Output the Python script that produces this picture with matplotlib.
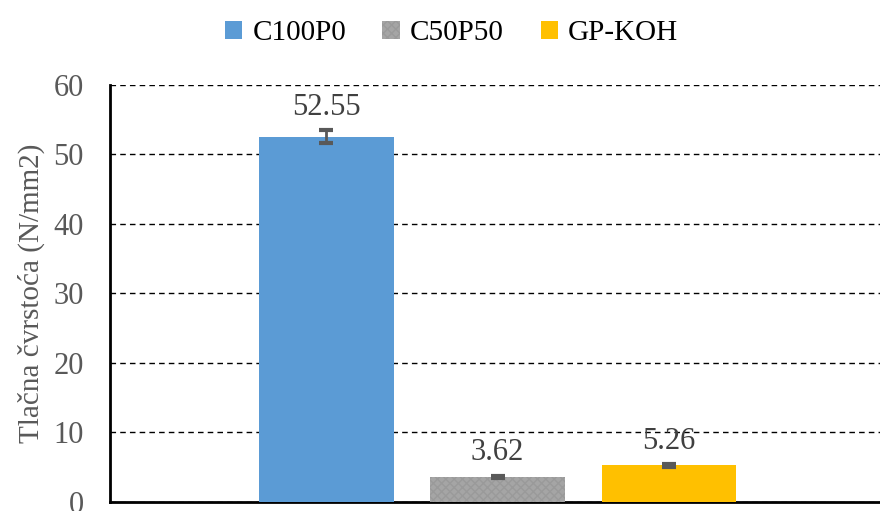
import matplotlib.pyplot as plt

# data
labels = ['C100P0', 'C50P50', 'GP-KOH']
values = [52.55, 3.62, 5.26]
errors = [0.95, 0.15, 0.2]
colors = ['#5B9BD5', '#A5A5A5', '#FFC000']
yticks = [0, 10, 20, 30, 40, 50, 60]

plt.rcParams['font.family'] = ['Liberation Serif', 'DejaVu Serif']

fig = plt.figure(figsize=(8.8, 5.11), dpi=100)
ax = fig.add_axes([0.125, 0.0176, 0.875, 0.8164])

pos = list(range(len(labels)))
for i in pos:
    ax.bar(i, values[i], width=0.785, color=colors[i], label=labels[i], zorder=3,
           hatch='xxxx' if i == 1 else None, edgecolor='#9a9a9a' if i == 1 else colors[i],
           linewidth=0)
    ax.errorbar(i, values[i], yerr=errors[i], fmt='none', ecolor='#595959',
                elinewidth=2, capsize=5, capthick=3, zorder=4)
    ax.annotate(f'{values[i]:.2f}', (i, values[i] + errors[i]), xytext=(0, 6),
                textcoords='offset points', ha='center', va='bottom',
                fontsize=22, color='#404040', zorder=5)

ax.set_xlim(-1.265, 3.235)
ax.set_ylim(0, 60)
ax.set_yticks(yticks)
ax.set_xticks([])
ax.tick_params(axis='y', length=0, labelsize=22, labelcolor='#595959', pad=19)
ax.yaxis.grid(True, linestyle=(0, (4, 3)), color='black', linewidth=1, zorder=0)
ax.set_axisbelow(True)

for s in ['top', 'right']:
    ax.spines[s].set_visible(False)
for s in ['left', 'bottom']:
    ax.spines[s].set_linewidth(2)
    ax.spines[s].set_color('black')

ax.set_ylabel('Tlačna čvrstoća (N/mm2)', fontsize=21, color='#595959', labelpad=6)

fig.legend(loc='upper center', bbox_to_anchor=(0.513, 1.012), ncol=3, frameon=False,
           fontsize=21, handlelength=0.6, handleheight=0.6, handletextpad=0.35,
           columnspacing=1.25)

plt.savefig('out.png', dpi=100)
